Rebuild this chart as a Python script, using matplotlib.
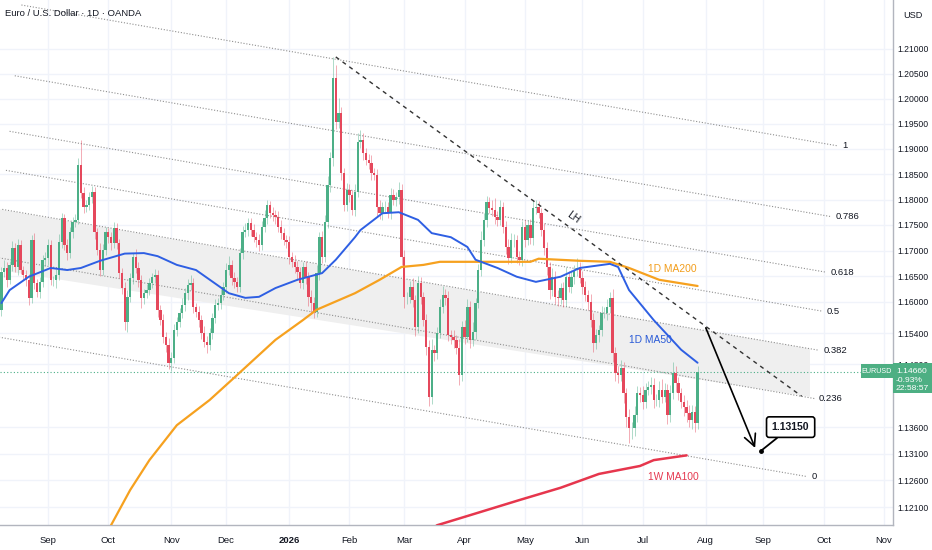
import numpy as np
import matplotlib
matplotlib.use('Agg')
import matplotlib.pyplot as plt
from matplotlib.patches import Rectangle
from matplotlib.transforms import IdentityTransform
from matplotlib.ticker import NullLocator, NullFormatter

plt.rcParams['font.family'] = ['Liberation Sans', 'DejaVu Sans']

# ---------------- data ----------------
first_day = '2025-08-07'
first_open = 1.1585
closes = [
    1.1658, 1.1666, 1.1643, 1.1672, 1.1705, 1.1668, 1.1711, 1.1662, 1.1652, 1.1643,
    1.1608, 1.1721, 1.1637, 1.1619, 1.1639, 1.1682, 1.1685, 1.1711, 1.1643, 1.1643,
    1.1652, 1.1717, 1.1764, 1.1711, 1.1695, 1.1736, 1.1756, 1.1760, 1.1868, 1.1813,
    1.1785, 1.1789, 1.1805, 1.1815, 1.1736, 1.1701, 1.1662, 1.1701, 1.1736, 1.1726,
    1.1715, 1.1744, 1.1715, 1.1656, 1.1627, 1.1561, 1.1610, 1.1647, 1.1687, 1.1666,
    1.1643, 1.1608, 1.1617, 1.1623, 1.1637, 1.1649, 1.1652, 1.1585, 1.1565, 1.1533,
    1.1517, 1.1483, 1.1492,
    1.1546, 1.1561, 1.1579, 1.1594, 1.1617, 1.1633, 1.1637, 1.1590, 1.1581, 1.1565,
    1.1540, 1.1523, 1.1517, 1.1540, 1.1569, 1.1594, 1.1598, 1.1613, 1.1629, 1.1662,
    1.1672, 1.1647, 1.1639, 1.1629, 1.1695, 1.1736, 1.1740, 1.1754, 1.1740, 1.1726,
    1.1721, 1.1711, 1.1746, 1.1764, 1.1789, 1.1773, 1.1769, 1.1766, 1.1746, 1.1734,
    1.1721, 1.1717, 1.1687, 1.1678, 1.1668, 1.1658, 1.1637, 1.1668, 1.1649, 1.1610,
    1.1598, 1.1581, 1.1656, 1.1726, 1.1687, 1.1756, 1.1829, 1.1882, 1.2042, 1.1954,
    1.1972, 1.1852, 1.1789,
    1.1819, 1.1809, 1.1779, 1.1815, 1.1914, 1.1918, 1.1892, 1.1878, 1.1872, 1.1852,
    1.1848, 1.1785, 1.1773, 1.1785, 1.1785, 1.1775, 1.1809, 1.1799, 1.1805, 1.1819,
    1.1687, 1.1610, 1.1610, 1.1629, 1.1604, 1.1552, 1.1637, 1.1610, 1.1565, 1.1513,
    1.1418, 1.1508, 1.1502, 1.1540, 1.1590, 1.1613, 1.1608, 1.1536, 1.1533, 1.1527,
    1.1511, 1.1460, 1.1552, 1.1533, 1.1590, 1.1527, 1.1542, 1.1598, 1.1662, 1.1721,
    1.1760, 1.1795, 1.1783, 1.1779, 1.1766, 1.1760, 1.1785, 1.1746, 1.1707, 1.1685,
    1.1721, 1.1721, 1.1687, 1.1682,
    1.1746, 1.1721, 1.1750, 1.1724, 1.1783, 1.1785, 1.1773, 1.1740, 1.1705, 1.1668,
    1.1623, 1.1649, 1.1610, 1.1608, 1.1627, 1.1604, 1.1649, 1.1629, 1.1649, 1.1662,
    1.1666, 1.1647, 1.1629, 1.1613, 1.1600, 1.1565, 1.1521, 1.1536, 1.1546, 1.1579,
    1.1579, 1.1590, 1.1608, 1.1502, 1.1463, 1.1460, 1.1473, 1.1425, 1.1380, 1.1359,
    1.1359, 1.1384, 1.1425, 1.1421, 1.1408, 1.1431, 1.1437, 1.1440, 1.1412, 1.1412,
    1.1431, 1.1418, 1.1431, 1.1384, 1.1425, 1.1463, 1.1444, 1.1425, 1.1408, 1.1399,
    1.1387, 1.1374, 1.1389, 1.1368, 1.1466,
]
# wick lengths beyond the body, in pips
wick_up = [
    10, 15, 12, 8, 14, 10, 12, 9, 8, 10, 12, 10, 14, 8, 10, 9, 12, 11, 10, 8,
    12, 15, 10, 8, 12, 10, 9, 11, 14, 50, 12, 10, 9, 12, 10, 8, 14, 12, 10, 9,
    11, 12, 10, 8, 10, 12, 14, 10, 8, 16, 12, 10, 9, 11, 10, 8, 12, 10, 9, 12,
    10, 14, 12,
    12, 10, 9, 14, 10, 12, 16, 10, 9, 12, 10, 14, 12, 10, 9, 11, 10, 12, 10, 14,
    18, 10, 12, 9, 10, 12, 14, 10, 9, 12, 10, 11, 12, 16, 10, 9, 12, 10, 11, 14,
    10, 9, 12, 10, 14, 12, 10, 9, 12, 10, 14, 12, 16, 10, 12, 14, 18, 12, 42, 25,
    30, 12, 10,
    14, 12, 10, 16, 18, 20, 14, 10, 12, 15, 10, 12, 14, 10, 12, 11, 14, 12, 10, 16,
    12, 14, 10, 12, 18, 10, 14, 12, 10, 12, 14, 20, 10, 12, 16, 18, 12, 14, 10, 12,
    10, 18, 12, 14, 16, 12, 20, 10, 12, 18, 14, 12, 10, 16, 24, 12, 14, 10, 12, 16,
    14, 12, 10, 12,
    12, 14, 10, 12, 16, 14, 12, 10, 14, 12, 10, 16, 12, 14, 10, 12, 18, 12, 14, 10,
    20, 12, 14, 12, 10, 16, 14, 12, 10, 14, 12, 16, 12, 18, 12, 14, 16, 12, 10, 14,
    12, 16, 14, 12, 18, 14, 12, 16, 14, 12, 18, 20, 14, 12, 16, 22, 14, 12, 10, 14,
    12, 16, 14, 12, 10,
]
wick_dn = [
    12, 10, 14, 9, 12, 10, 15, 8, 10, 12, 14, 10, 12, 9, 11, 10, 12, 14, 10, 12,
    15, 10, 12, 9, 14, 10, 12, 10, 8, 10, 12, 9, 10, 12, 14, 10, 12, 9, 10, 12,
    14, 10, 12, 10, 12, 16, 18, 10, 12, 9, 14, 20, 12, 10, 9, 10, 12, 14, 10, 12,
    14, 12, 16,
    10, 12, 9, 10, 12, 14, 10, 12, 10, 14, 12, 10, 16, 10, 12, 10, 9, 12, 10, 12,
    10, 14, 12, 10, 9, 12, 10, 11, 12, 10, 14, 12, 10, 9, 12, 10, 12, 14, 10, 12,
    10, 12, 14, 10, 12, 16, 10, 12, 14, 18, 20, 12, 10, 14, 12, 10, 12, 14, 16, 14,
    12, 14, 12,
    12, 14, 10, 12, 10, 12, 14, 10, 12, 14, 10, 18, 12, 14, 10, 12, 14, 10, 12, 14,
    16, 22, 14, 12, 14, 18, 12, 14, 12, 16, 18, 14, 16, 12, 10, 12, 14, 12, 14, 16,
    12, 20, 12, 14, 10, 16, 12, 14, 10, 12, 12, 14, 10, 12, 14, 12, 10, 12, 14, 12,
    10, 14, 12, 10,
    12, 14, 10, 12, 14, 12, 10, 12, 14, 16, 18, 12, 14, 16, 12, 14, 12, 10, 12, 14,
    12, 10, 14, 12, 16, 14, 18, 12, 14, 12, 10, 14, 12, 18, 14, 16, 12, 18, 20, 28,
    22, 16, 14, 12, 14, 12, 10, 14, 16, 12, 14, 12, 10, 18, 14, 12, 16, 14, 12, 18,
    16, 14, 18, 16, 12,
]

ma50_dates = ['2025-08-07', '2025-08-12', '2025-08-21', '2025-09-02', '2025-09-10', '2025-09-17',
              '2025-09-26', '2025-10-09', '2025-10-20', '2025-10-27', '2025-11-05', '2025-11-14',
              '2025-12-02', '2025-12-10', '2025-12-17', '2025-12-25', '2026-01-06', '2026-01-19',
              '2026-01-26', '2026-02-04', '2026-02-06', '2026-02-18', '2026-02-26', '2026-03-09',
              '2026-03-16', '2026-03-25', '2026-04-02', '2026-04-07', '2026-04-17', '2026-04-28',
              '2026-05-07', '2026-05-20', '2026-05-29', '2026-06-15', '2026-06-18', '2026-06-24',
              '2026-07-07', '2026-07-21', '2026-07-29']
ma50_vals = [1.1598, 1.1623, 1.1649, 1.1666, 1.1662, 1.1666,
             1.1680, 1.1694, 1.1695, 1.1689, 1.1672, 1.1662,
             1.1617, 1.1608, 1.1610, 1.1627, 1.1643, 1.1656,
             1.1682, 1.1726, 1.1740, 1.1773, 1.1775, 1.1760,
             1.1734, 1.1726, 1.1707, 1.1682, 1.1666, 1.1649,
             1.1639, 1.1649, 1.1666, 1.1674, 1.1668, 1.1623,
             1.1565, 1.1508, 1.1483]

ma200_dates = ['2025-09-26', '2025-10-02', '2025-10-13', '2025-10-22', '2025-11-05', '2025-11-21',
               '2025-12-03', '2025-12-25', '2026-01-08', '2026-01-15', '2026-02-04', '2026-02-17',
               '2026-02-27', '2026-03-11', '2026-03-19', '2026-04-09', '2026-05-05', '2026-05-08',
               '2026-05-29', '2026-06-15', '2026-06-24', '2026-07-09', '2026-07-29']
ma200_vals = [1.1145, 1.1176, 1.1242, 1.1298, 1.1364, 1.1412,
              1.1450, 1.1527, 1.1565, 1.1585, 1.1617, 1.1643,
              1.1668, 1.1672, 1.1678, 1.1678, 1.1678, 1.1684,
              1.1680, 1.1678, 1.1666, 1.1643, 1.1631]

wma100_dates = ['2026-03-11', '2026-03-18', '2026-04-09', '2026-04-29', '2026-05-20',
                '2026-06-09', '2026-06-30', '2026-07-07', '2026-07-23']
wma100_vals = [1.1158, 1.1176, 1.1201, 1.1223, 1.1246, 1.1272, 1.1287, 1.1298, 1.1307]

# fib channel: level-0 line anchors and level-1 price at the start anchor
fib_dates = ['2025-08-01', '2026-09-23']
fib_zero = [1.1535, 1.1267]
fib_one_start = 1.2200
fib_levels = [0, 0.236, 0.382, 0.5, 0.618, 0.786, 1]

# shaded zone corners (top edge, bottom edge)
zone_dates = ['2025-08-06', '2026-09-24']
zone_top = [1.1781, 1.1510]
zone_bottom = [1.1662, 1.1418]

lh_dates = ['2026-01-26', '2026-09-21']
lh_prices = [1.2084, 1.1419]

arrow_dates = ['2026-08-03', '2026-08-27']
arrow_prices = [1.1550, 1.1321]
target_date = '2026-08-31'
target_price = 1.1315

price_ticks = [1.21, 1.205, 1.20, 1.195, 1.19, 1.185, 1.18, 1.175, 1.17, 1.165,
               1.16, 1.154, 1.148, 1.136, 1.131, 1.126, 1.121]
month_dates = ['2025-09-01', '2025-10-01', '2025-11-03', '2025-12-01', '2026-01-01',
               '2026-02-02', '2026-03-02', '2026-04-01', '2026-05-01', '2026-06-01',
               '2026-07-01', '2026-08-03', '2026-09-01', '2026-10-01', '2026-11-02']
month_labels = ['Sep', 'Oct', 'Nov', 'Dec', '2026', 'Feb', 'Mar', 'Apr', 'May', 'Jun',
                'Jul', 'Aug', 'Sep', 'Oct', 'Nov']


def bidx(d):
    # trading-day index, 0 = 1 Sep 2025
    return np.busday_count(np.datetime64('2025-09-01'), np.array(d, dtype='datetime64[D]'))


up_col = '#4caf87'
dn_col = '#e5485c'
grid_col = '#f0f3fa'
txt_col = '#131722'

fig = plt.figure(figsize=(9.32, 5.5), dpi=100)
ax = fig.add_axes([0, 25 / 550, 893 / 932, 525 / 550])
ax.set_yscale('log')
ax.set_xlim(-17.51, 308.3)
ax.set_ylim(1.11764, 1.21993)

# grid
for v in price_ticks:
    ax.axhline(v, color=grid_col, lw=1, zorder=0)
month_idx = bidx(month_dates)
for t in month_idx:
    ax.axvline(t, color=grid_col, lw=1, zorder=0)

# shaded zone
zx = bidx(zone_dates)
ax.fill([zx[0], zx[1], zx[1], zx[0]],
        [zone_top[0], zone_top[1], zone_bottom[1], zone_bottom[0]],
        color='#efefef', lw=0, zorder=0.5)

# fib channel
fx = bidx(fib_dates).astype(float)
lz0, lz1 = np.log(fib_zero[0]), np.log(fib_zero[1])
lwidth = np.log(fib_one_start / fib_zero[0])
shift = 11.3  # channel edges are slanted
for lv in fib_levels:
    xa, xb = fx[0] + shift * lv, fx[1] + shift * lv
    def lp(x):
        return np.exp(lz0 + (lz1 - lz0) * (x - fx[0]) / (fx[1] - fx[0]) + lv * lwidth)
    ax.plot([xa, xb], [lp(xa), lp(xb)], color='#8f8f8f', lw=0.8,
            ls=(0, (1, 1.6)), zorder=1)
    lab = '0' if lv == 0 else ('1' if lv == 1 else f'{lv:g}')
    ax.text(xb + 1.5, lp(xb), lab, fontsize=6.8, color=txt_col, va='center', ha='left')

# current price line
last = closes[-1]
ax.axhline(last, color=up_col, lw=0.8, ls=(0, (1, 2)), zorder=1)

# candles
c = np.array(closes)
o = np.r_[first_open, c[:-1]]
hi = np.maximum(o, c) + np.array(wick_up) * 1e-4
lo = np.minimum(o, c) - np.array(wick_dn) * 1e-4
xs = bidx(first_day) + np.arange(len(c))
cols = np.where(c >= o, up_col, dn_col)
ax.vlines(xs, lo, hi, colors=cols, lw=0.7, alpha=0.45, zorder=2)
ax.bar(xs, np.maximum(np.abs(c - o), 0.00005), bottom=np.minimum(o, c), width=0.85,
       color=cols, lw=0, zorder=3, antialiased=False)

# moving averages
ax.plot(bidx(ma200_dates), ma200_vals, color='#f6a11f', lw=1.6, zorder=4, solid_capstyle='round')
ax.plot(bidx(ma50_dates), ma50_vals, color='#2e5fe3', lw=1.4, zorder=4, solid_capstyle='round')
ax.plot(bidx(wma100_dates), wma100_vals, color='#e6364d', lw=1.8, zorder=4, solid_capstyle='round')
ax.text(bidx('2026-07-03'), 1.1664, '1D MA200', color='#f29d1b', fontsize=7.4, va='center', ha='left')
ax.text(bidx('2026-06-24'), 1.1527, '1D MA50', color='#2a5bd7', fontsize=7.4, va='center', ha='left')
ax.text(bidx('2026-07-03'), 1.1266, '1W MA100', color='#e53950', fontsize=7.4, va='center', ha='left')

# lower-high trend line
lx = bidx(lh_dates)
ax.plot(lx, lh_prices, color='#333333', lw=1.0, ls=(0, (3, 3)), zorder=5)
ax.text(bidx('2026-05-26') + 0.5, 1.1764, 'LH', rotation=-36, rotation_mode='anchor',
        fontsize=7.4, color=txt_col, ha='center', va='center')

# projection arrow + target callout
ar = bidx(arrow_dates)
ax.annotate('', xy=(ar[1], arrow_prices[1]), xytext=(ar[0], arrow_prices[0]),
            arrowprops=dict(arrowstyle='->,head_length=0.7,head_width=0.35', color='black',
                            lw=1.2, shrinkA=0, shrinkB=0, mutation_scale=12), zorder=6)
tx = bidx(target_date)
ax.plot([tx], [target_price], 'o', color='black', ms=2.5, zorder=7)
ax.annotate(f'{target_price:.5f}', xy=(tx, target_price), xytext=(30, 24),
            textcoords='offset pixels', ha='center', va='center', fontsize=7.6,
            fontweight='bold', color=txt_col, zorder=7,
            bbox=dict(boxstyle='round,pad=0.5,rounding_size=0.25', fc='white', ec='black', lw=1.2),
            arrowprops=dict(arrowstyle='-', color='black', lw=1.3, shrinkA=0, shrinkB=1))

# axes styling
for s in ['top', 'left']:
    ax.spines[s].set_visible(False)
for s in ['right', 'bottom']:
    ax.spines[s].set_color('#b2b5be')
    ax.spines[s].set_linewidth(1)
ax.yaxis.tick_right()
ax.set_yticks(price_ticks)
ax.set_yticklabels([f'{v:.5f}' for v in price_ticks])
ax.yaxis.set_minor_locator(NullLocator())
ax.yaxis.set_minor_formatter(NullFormatter())
ax.tick_params(axis='y', length=0, pad=3, labelsize=6.2, labelcolor=txt_col)
ax.set_xticks(month_idx)
ax.set_xticklabels(month_labels)
ax.get_xticklabels()[4].set_fontweight('bold')
ax.tick_params(axis='x', length=0, pad=8, labelsize=6.8, labelcolor=txt_col)

fig.text(5 / 932, 1 - 14 / 550, 'Euro / U.S. Dollar · 1D · OANDA', fontsize=6.8,
         color=txt_col, va='center', ha='left')
fig.text(903 / 932, 1 - 15 / 550, 'USD', fontsize=6.6, color=txt_col, va='center', ha='left')

# last price tags on the scale
yp = ax.transData.transform((0, last))[1]
tag_col = '#4daf83'
fig.add_artist(Rectangle((861, yp - 6.5), 32, 14, transform=IdentityTransform(),
                         fc=tag_col, ec='none', zorder=10))
fig.text(877, yp + 0.5, 'EURUSD', transform=IdentityTransform(), fontsize=5.2,
         color='white', ha='center', va='center', zorder=11)
fig.add_artist(Rectangle((893, yp - 21), 39, 30, transform=IdentityTransform(),
                         fc=tag_col, ec='none', zorder=10))
for k, s in enumerate([f'{last:.5f}', '-0.93%', '22:58:57']):
    fig.text(896, yp - 8.6 * k, s, transform=IdentityTransform(), fontsize=6.1,
             color='white', ha='left', va='center', zorder=11)

fig.savefig('out.png', dpi=100)
